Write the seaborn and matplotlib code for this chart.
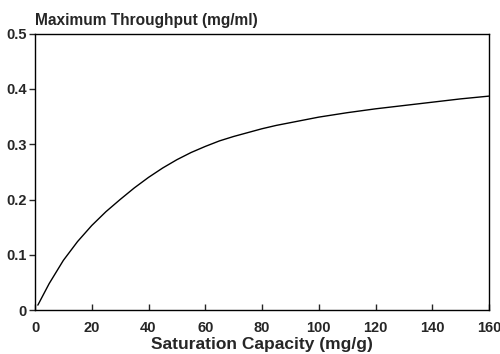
import numpy as np
import pandas as pd
import matplotlib
matplotlib.use("Agg")
import matplotlib.pyplot as plt
import seaborn as sns

# values
capacity = [1, 5, 10, 15, 20, 25, 30, 35, 40, 45, 50, 55, 60, 65, 70, 75, 80,
            85, 90, 95, 100, 110, 120, 130, 140, 150, 160]
throughput = [0.009, 0.048, 0.090, 0.124, 0.153, 0.178, 0.200, 0.221, 0.240,
              0.257, 0.272, 0.285, 0.296, 0.306, 0.314, 0.321, 0.328, 0.334,
              0.339, 0.344, 0.349, 0.357, 0.364, 0.370, 0.376, 0.382, 0.387]
x_ticks = [0, 20, 40, 60, 80, 100, 120, 140, 160]
y_ticks = [0, 0.1, 0.2, 0.3, 0.4, 0.5]
y_labels = ["0", "0.1", "0.2", "0.3", "0.4", "0.5"]

df = pd.DataFrame({"cap": capacity, "thr": throughput})

sns.set_style("ticks")
plt.rcParams["font.family"] = ["Liberation Sans", "DejaVu Sans"]
plt.rcParams["font.weight"] = "bold"

fig = plt.figure(figsize=(5, 3.54), dpi=100)
ax = fig.add_axes([0.07, 0.124, 0.908, 0.781])
sns.lineplot(data=df, x="cap", y="thr", color="black", linewidth=1.0, ax=ax)

ax.set_xlim(0, 160)
ax.set_ylim(0, 0.5)
ax.set_xticks(x_ticks)
ax.set_xticklabels([str(t) for t in x_ticks], fontsize=10.5, fontweight="bold")
ax.set_yticks(y_ticks)
ax.set_yticklabels(y_labels, fontsize=10.5, fontweight="bold")
ax.tick_params(axis="x", direction="in", length=4, width=1, pad=8)
ax.tick_params(axis="y", direction="out", length=4, width=1, pad=2)
for s in ax.spines.values():
    s.set_visible(True)
    s.set_linewidth(1.0)
    s.set_color("black")

ax.set_xlabel("Saturation Capacity (mg/g)", fontsize=12.5, fontweight="bold", labelpad=1)
ax.set_ylabel("")
fig.text(0.07, 0.922, "Maximum Throughput (mg/ml)", fontsize=11.2, fontweight="bold",
         ha="left", va="bottom")

fig.savefig("out.png", dpi=100)
